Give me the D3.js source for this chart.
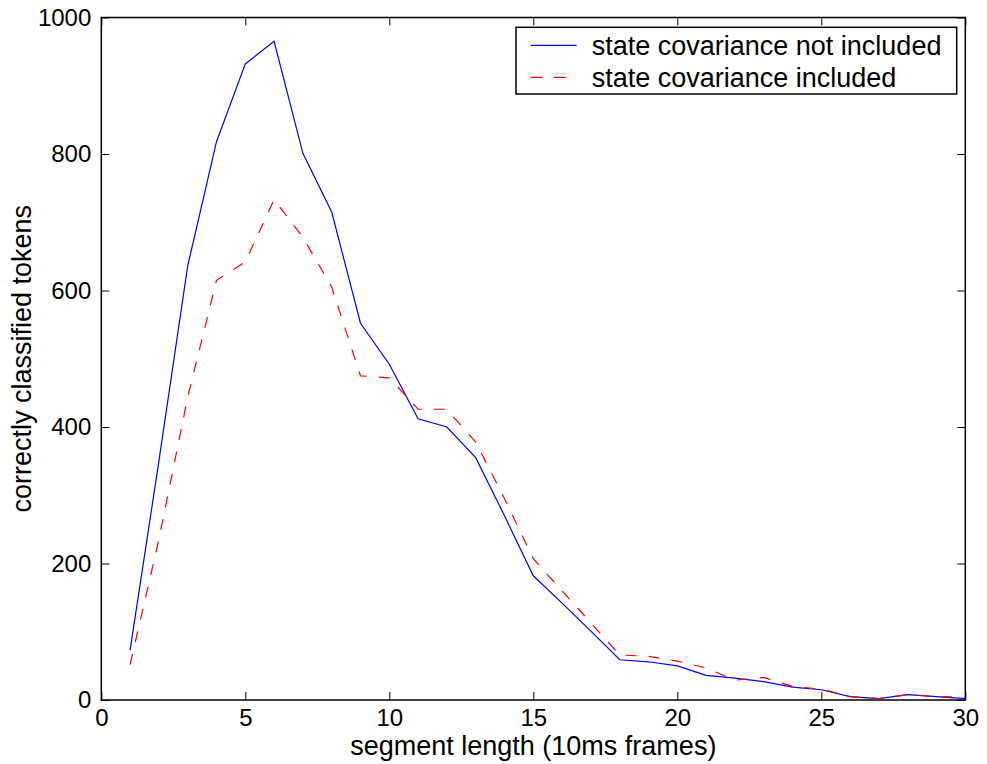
<!DOCTYPE html>
<html>
<head>
<meta charset="utf-8">
<script src="https://cdn.jsdelivr.net/npm/d3@7"></script>
<style>
  html, body { margin: 0; padding: 0; background: #fff; }
  svg { display: block; }
  text { font-family: "Liberation Sans", Arial, Helvetica, sans-serif; fill: #000; }
</style>
</head>
<body>
<svg id="chart" width="987" height="764"></svg>
<script>
// Segment lengths (in 10 ms frames) and correctly classified token counts
const segmentLength = d3.range(1, 31);
const covNotIncluded = [73, 350, 636, 818, 932, 965, 801, 715, 552, 492,
                        412, 400, 355, 270, 182, 142, 101, 59, 56, 50,
                        36, 32, 27, 19, 15, 5, 2, 8, 5, 2];
const covIncluded    = [52, 235, 444, 615, 642, 733, 678, 605, 475, 472,
                        426, 426, 378, 295, 207, 160, 113, 66, 64, 57,
                        47, 29, 33, 20, 16, 5, 2, 8, 5, 4];
const seriesNames = ["state covariance not included", "state covariance included"];
const xTicks = [0, 5, 10, 15, 20, 25, 30];
const yTicks = [0, 200, 400, 600, 800, 1000];

const margin = { left: 101.3, top: 17.5 };
const width = 864, height = 682.5;

const svg = d3.select("#chart");
const g = svg.append("g").attr("transform", `translate(${margin.left},${margin.top})`);

const x = d3.scaleLinear().domain([0, 30]).range([0, width]);
const y = d3.scaleLinear().domain([0, 1000]).range([height, 0]);

const tickFont = 24;
const labelFont = 27;
const plain = d3.format("d");

// Axes with inward ticks on all four sides
const axisB = g.append("g").attr("transform", `translate(0,${height})`)
  .call(d3.axisBottom(x).tickValues(xTicks).tickFormat(plain)
    .tickSizeInner(-8).tickSizeOuter(0).tickPadding(8.5));
const axisL = g.append("g")
  .call(d3.axisLeft(y).tickValues(yTicks).tickFormat(plain)
    .tickSizeInner(-8).tickSizeOuter(0).tickPadding(10));
const axisT = g.append("g")
  .call(d3.axisTop(x).tickValues(xTicks).tickSizeInner(-8).tickSizeOuter(0).tickFormat(""));
const axisR = g.append("g").attr("transform", `translate(${width},0)`)
  .call(d3.axisRight(y).tickValues(yTicks).tickSizeInner(-8).tickSizeOuter(0).tickFormat(""));

[axisB, axisL, axisT, axisR].forEach(a => {
  a.select(".domain").remove();
  a.selectAll(".tick line").attr("stroke", "#000").attr("stroke-width", 1);
  a.selectAll(".tick text").attr("font-size", tickFont)
    .attr("font-family", "\"Liberation Sans\", Arial, Helvetica, sans-serif")
    .attr("fill", "#000");
});

// Plot frame
g.append("rect")
  .attr("x", 0).attr("y", 0).attr("width", width).attr("height", height)
  .attr("fill", "none").attr("stroke", "#000").attr("stroke-width", 1.5);

// Series lines
const line = d3.line().x(d => x(d[0])).y(d => y(d[1]));
const styles = [
  { color: "#0000ff", dash: null, values: covNotIncluded },
  { color: "#ff0000", dash: "11,12", values: covIncluded }
];

styles.forEach(s => {
  g.append("path")
    .datum(segmentLength.map((k, i) => [k, s.values[i]]))
    .attr("fill", "none")
    .attr("stroke", s.color)
    .attr("stroke-width", 1.2)
    .attr("stroke-dasharray", s.dash)
    .attr("d", line);
});

// Axis titles
svg.append("text")
  .attr("x", margin.left + width / 2).attr("y", 755)
  .attr("text-anchor", "middle").attr("font-size", labelFont)
  .text("segment length (10ms frames)");

svg.append("text")
  .attr("transform", `translate(31,${margin.top + height / 2}) rotate(-90)`)
  .attr("text-anchor", "middle").attr("font-size", labelFont)
  .text("correctly classified tokens");

// Legend
const legend = svg.append("g");
legend.append("rect")
  .attr("x", 516).attr("y", 27.3).attr("width", 440.7).attr("height", 66.7)
  .attr("fill", "#fff").attr("stroke", "#000").attr("stroke-width", 1.5);

const rowY = [45.3, 77.3];
styles.forEach((s, i) => {
  legend.append("line")
    .attr("x1", 530.7).attr("x2", 576.7)
    .attr("y1", rowY[i]).attr("y2", rowY[i])
    .attr("stroke", s.color).attr("stroke-width", 1.2)
    .attr("stroke-dasharray", s.dash ? "12,11" : null);
  legend.append("text")
    .attr("x", 591.7).attr("y", rowY[i] + 9.5)
    .attr("font-size", labelFont)
    .text(seriesNames[i]);
});
</script>
</body>
</html>
